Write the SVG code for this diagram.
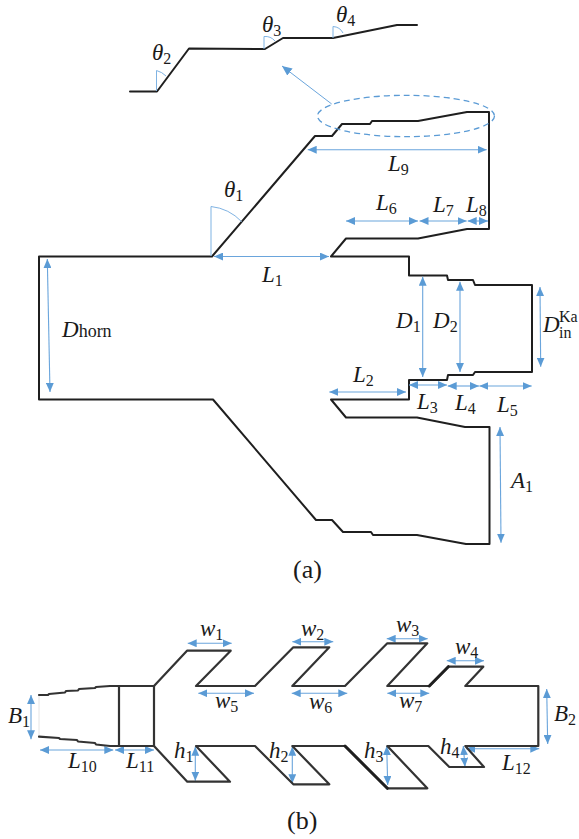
<svg xmlns="http://www.w3.org/2000/svg" width="579" height="839" viewBox="0 0 579 839">
<style>
.o{fill:none;stroke:#1f1f1f;stroke-width:2;stroke-linejoin:round;stroke-linecap:round}
.h{fill:none;stroke:#1f1f1f;stroke-width:3;stroke-linecap:round}
.g{fill:none;stroke:#333;stroke-width:2.2;stroke-linejoin:round;stroke-linecap:round}
.a{fill:none;stroke:#6aa5dc;stroke-width:1.1;marker-start:url(#ah);marker-end:url(#ah)}
.t{fill:none;stroke:#7fb3e3;stroke-width:1}
text{font-family:"Liberation Serif",serif;fill:#1a1a1a}
.m{font-size:23px;font-style:italic}
.m tspan{font-size:16px;font-style:normal}
.c{font-size:26px}
</style>
<defs>
<marker id="ah" markerUnits="userSpaceOnUse" markerWidth="9" markerHeight="8" refX="8" refY="3.5" orient="auto-start-reverse" viewBox="0 0 8 7"><path d="M0 0L8 3.5L0 7Z" fill="#5b9bd5"/></marker>
<marker id="ae" markerUnits="userSpaceOnUse" markerWidth="10" markerHeight="9" refX="8" refY="3.5" orient="auto" viewBox="0 0 8 7"><path d="M0 0L8 3.5L0 7Z" fill="#5b9bd5"/></marker>
</defs>
<g id="inset">
<path class="o" d="M130 91.5H157L189 48.5L265 49L283 38H333L397 25H417"/>
<path class="t" d="M156.5 91V70.5A21 21 0 0 1 166 76"/>
<path class="t" d="M264 49V36.5A13 13 0 0 1 275 41"/>
<path class="t" d="M333 38V26.5A12 12 0 0 1 343 33"/>
<text class="m" x="152" y="60">θ<tspan dy="4">2</tspan></text>
<text class="m" x="262" y="32">θ<tspan dy="4">3</tspan></text>
<text class="m" x="336" y="22">θ<tspan dy="4">4</tspan></text>
</g>
<g id="figure-a">
<path class="o" d="M331 256.5H409V275.5H447L448 280H473L475 285H532V372H475L473 375H448L447 380H409V399.5H331L346 417.5H417L465 427H489.5V544H466L417 535H373L371 532H343L332 520H316L213 399.5H39V256.5H212L315 136H332L342 124H370L372 121H418L467 112H489V229H467L418 238.5H346Z"/>
</g>
<g id="connectors">
<ellipse cx="406" cy="116" rx="88.5" ry="20.7" fill="none" stroke="#5b9bd5" stroke-width="1.3" stroke-dasharray="6 4"/>
<path d="M331.7 104L282 66" fill="none" stroke="#6aa5dc" stroke-width="1" marker-end="url(#ae)"/>
<path class="t" d="M211 256V206.5A50 50 0 0 1 241.7 221.7"/>
<path class="a" d="M47.3 259L50 392"/>
<path class="a" d="M214 256.5H329"/>
<path class="a" d="M307.7 149.7H486.7"/>
<path class="a" d="M346 221H418"/>
<path class="a" d="M419.5 221H466.7"/>
<path class="a" d="M467.7 221H488"/>
<path class="a" d="M422.7 276.7V377"/>
<path class="a" d="M460 281.7V372"/>
<path class="a" d="M540 287L540.7 366.7"/>
<path class="a" d="M329.3 392H406"/>
<path class="a" d="M409 385H447"/>
<path class="a" d="M447.7 386H479"/>
<path class="a" d="M479.3 386H531.7"/>
<path class="a" d="M500 427L501 542.7"/>
<path class="a" d="M187.7 643.3H231.7"/>
<path class="a" d="M198.3 693.3H254"/>
<path class="a" d="M292.3 641.7H333.3"/>
<path class="a" d="M291.7 693.3H347.3"/>
<path class="a" d="M386.7 638.7H427.7"/>
<path class="a" d="M387.3 693.3H429.3"/>
<path class="a" d="M446.7 660.7H484"/>
<path class="a" d="M546.7 689L547.7 744"/>
<path class="a" d="M466 748.7H539.3"/>
<path class="a" d="M463.3 746L465 766.7"/>
<path class="a" d="M386.7 746L387.7 785"/>
<path class="a" d="M292.3 746.7V783.3"/>
<path class="a" d="M195.3 746.7V780.7"/>
<path class="a" d="M31 695V739.3"/>
<path class="a" d="M40 750H113.3"/>
<path class="a" d="M115 750H154"/>
</g>
<g id="labels-a">
<text class="m" x="224" y="197">θ<tspan dy="4">1</tspan></text>
<text class="m" x="388" y="171">L<tspan dy="4">9</tspan></text>
<text class="m" x="376" y="210">L<tspan dy="4">6</tspan></text>
<text class="m" x="433" y="212">L<tspan dy="4">7</tspan></text>
<text class="m" x="466" y="212">L<tspan dy="4">8</tspan></text>
<text class="m" x="262" y="282">L<tspan dy="4">1</tspan></text>
<text class="m" x="62" y="337">D<tspan dy="0" style="font-size:18px">horn</tspan></text>
<text class="m" x="396" y="328">D<tspan dy="4">1</tspan></text>
<text class="m" x="433" y="328">D<tspan dy="4">2</tspan></text>
<text class="m" x="543" y="332">D</text>
<text class="m" x="559" y="322"><tspan>Ka</tspan></text>
<text class="m" x="559" y="338"><tspan>in</tspan></text>
<text class="m" x="353" y="382">L<tspan dy="4">2</tspan></text>
<text class="m" x="417" y="409">L<tspan dy="4">3</tspan></text>
<text class="m" x="455" y="410">L<tspan dy="4">4</tspan></text>
<text class="m" x="497" y="412">L<tspan dy="4">5</tspan></text>
<text class="m" x="511" y="488">A<tspan dy="4">1</tspan></text>
<text class="c" x="293" y="578">(a)</text>
</g>
<g id="figure-b">
<path d="M39 695V737" fill="none" stroke="#e4e4e4" stroke-width="1"/>
<path class="g" d="M39 695H48L49 694L65 692.5L66 691L78 690.5L79 689L95 688L96 687L110 686H154L187 650.7H230.7L196 686H255L293.3 647.3H329.3L292.3 686H345L387.3 643.3H427.3L387.3 686H429.3L448.3 666.7H483.3L465.3 686H538.3V746H465.3L484 767H449.3L428.3 746H387.3L427.3 788.3H387.3L345 746H292.3L329.3 784.3H293.3L255 746H196L230 781.7H187.3L154 746H110L96 744.5L95 743L78 741.5L77 740L60 739L59 738L39 736.7"/>
<path class="g" d="M119 686V746M154 686V746"/>
<path class="h" d="M429.3 686L448.3 666.7M345 746L387.3 788.3"/>
</g>
<g id="labels-b">
<text class="m" x="200" y="636">w<tspan dy="4">1</tspan></text>
<text class="m" x="215" y="708">w<tspan dy="4">5</tspan></text>
<text class="m" x="301" y="636">w<tspan dy="4">2</tspan></text>
<text class="m" x="309" y="709">w<tspan dy="4">6</tspan></text>
<text class="m" x="396" y="632">w<tspan dy="4">3</tspan></text>
<text class="m" x="399" y="708">w<tspan dy="4">7</tspan></text>
<text class="m" x="455" y="654">w<tspan dy="4">4</tspan></text>
<text class="m" x="8" y="723">B<tspan dy="4">1</tspan></text>
<text class="m" x="554" y="721">B<tspan dy="4">2</tspan></text>
<text class="m" x="68" y="768">L<tspan dy="4">10</tspan></text>
<text class="m" x="126" y="768">L<tspan dy="4">11</tspan></text>
<text class="m" x="502" y="770">L<tspan dy="4">12</tspan></text>
<text class="m" x="174" y="758">h<tspan dy="4">1</tspan></text>
<text class="m" x="269" y="758">h<tspan dy="4">2</tspan></text>
<text class="m" x="364" y="758">h<tspan dy="4">3</tspan></text>
<text class="m" x="440" y="754">h<tspan dy="4">4</tspan></text>
<text class="c" x="287" y="829">(b)</text>
</g>
</svg>
